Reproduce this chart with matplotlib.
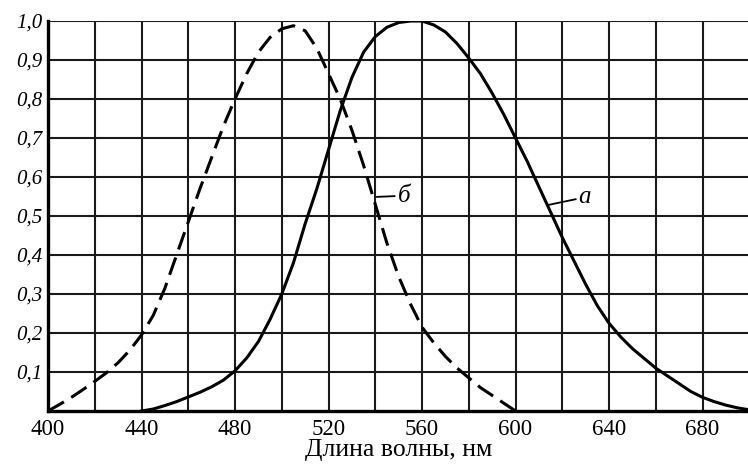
import matplotlib
matplotlib.use("Agg")
import matplotlib.pyplot as plt
import numpy as np

# photopic curve (a), read every 5 nm
wl_a = np.arange(440, 701, 5)
v_a = [0.0, 0.005, 0.014, 0.024, 0.036, 0.048, 0.062, 0.079, 0.103, 0.136,
       0.178, 0.235, 0.30, 0.38, 0.48, 0.57, 0.67, 0.77, 0.855, 0.92,
       0.96, 0.984, 0.996, 1.0, 1.0, 0.99, 0.972, 0.942, 0.905, 0.865,
       0.815, 0.76, 0.70, 0.64, 0.575, 0.51, 0.445, 0.385, 0.325, 0.27,
       0.225, 0.19, 0.16, 0.135, 0.11, 0.09, 0.07, 0.05, 0.035, 0.024,
       0.015, 0.008, 0.003]

# scotopic curve (б), read every 5 nm
wl_b = np.arange(400, 601, 5)
v_b = [0.0, 0.017, 0.035, 0.055, 0.076, 0.098, 0.124, 0.156, 0.195, 0.245,
       0.315, 0.40, 0.485, 0.57, 0.65, 0.73, 0.80, 0.865, 0.92, 0.958,
       0.98, 0.988, 0.975, 0.93, 0.865, 0.80, 0.72, 0.63, 0.53, 0.43,
       0.345, 0.275, 0.215, 0.175, 0.14, 0.11, 0.085, 0.06, 0.04, 0.02, 0.0]

xticks = [400, 440, 480, 520, 560, 600, 640, 680]
yticks = [0.1, 0.2, 0.3, 0.4, 0.5, 0.6, 0.7, 0.8, 0.9, 1.0]
ylabels = ["0,1", "0,2", "0,3", "0,4", "0,5", "0,6", "0,7", "0,8", "0,9", "1,0"]

serif = "Liberation Serif"

fig = plt.figure(figsize=(7.48, 4.68), dpi=100)
ax = fig.add_axes([0.0642, 0.1218, 0.9375, 0.8333])

ax.set_xlim(400, 700)
ax.set_ylim(0, 1.0)

# grid every 20 nm and every 0.1
for x in range(420, 700, 20):
    ax.axvline(x, color="#1a1a1a", lw=1.5, zorder=1)
for y in yticks:
    ax.axhline(y, color="#1a1a1a", lw=1.5, zorder=1)

ax.plot(wl_a, v_a, color="black", lw=2.2, zorder=3)
ax.plot(wl_b, v_b, color="black", lw=2.2, dashes=(6, 2.8), zorder=3)

ax.annotate("б", xy=(540.6, 0.549), xytext=(549.5, 0.552),
            fontsize=18, style="italic", family=serif, va="center",
            arrowprops=dict(arrowstyle="-", color="black", lw=1.3,
                            shrinkA=0, shrinkB=0))
ax.annotate("а", xy=(613.7, 0.528), xytext=(627, 0.548),
            fontsize=18, style="italic", family=serif, va="center",
            arrowprops=dict(arrowstyle="-", color="black", lw=1.3,
                            shrinkA=0, shrinkB=0))

for s in ["top", "right"]:
    ax.spines[s].set_visible(False)
ax.spines["left"].set_linewidth(2.4)
ax.spines["bottom"].set_linewidth(2.4)

ax.set_xticks(xticks)
ax.set_xticklabels([str(t) for t in xticks], family=serif, fontsize=16.5)
ax.set_yticks(yticks)
ax.set_yticklabels(ylabels, family=serif, style="italic", fontsize=15)
ax.tick_params(axis="both", length=0)
ax.tick_params(axis="x", pad=6)
ax.tick_params(axis="y", pad=4)

ax.set_xlabel("Длина волны, нм", family=serif, fontsize=18.5, labelpad=-1)

fig.savefig("out.png", dpi=100)
